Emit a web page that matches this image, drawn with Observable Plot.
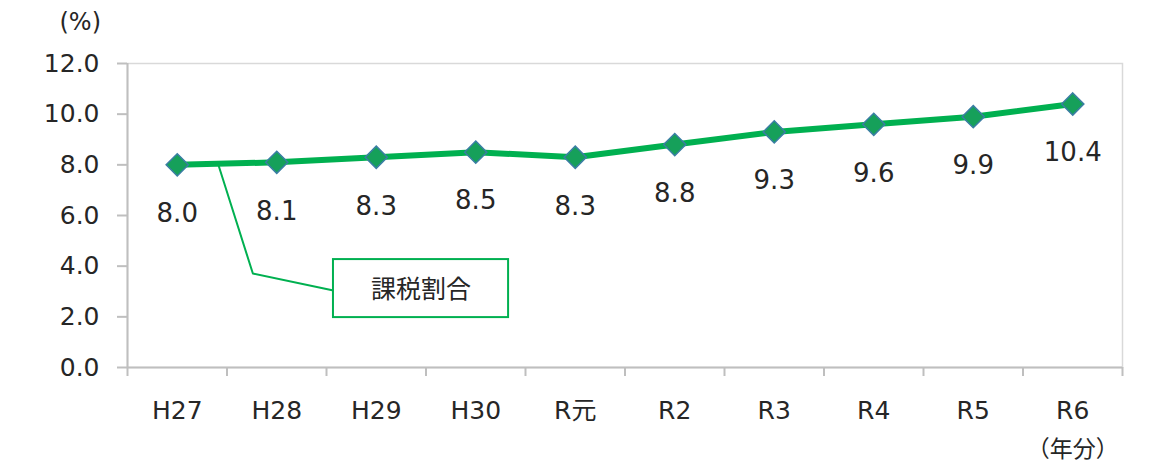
<!DOCTYPE html>
<html>
<head>
<meta charset="utf-8">
<script src="https://cdn.jsdelivr.net/npm/d3@7"></script>
<script src="https://cdn.jsdelivr.net/npm/@observablehq/plot@0.6"></script>
<style>
  html, body { margin: 0; padding: 0; background: #fff; }
  #chart { width: 1160px; height: 470px; }
  g[aria-label="category-labels"] text { letter-spacing: 2.5px; }
</style>
</head>
<body>
<div id="chart"></div>
<script>
const categories = ["H27", "H28", "H29", "H30", "R元", "R2", "R3", "R4", "R5", "R6"];
const values = [8.0, 8.1, 8.3, 8.5, 8.3, 8.8, 9.3, 9.6, 9.9, 10.4];
const yTicks = [0, 2, 4, 6, 8, 10, 12];
const seriesName = "課税割合";
const yUnitLabel = "(%)";
const xUnitLabel = "（年分）";
// callout annotation (data units: x = category index, y = %)
const leaderX = [0.41, 0.76, 1.57];
const leaderY = [8.04, 3.71, 3.04];
const boxX = [1.57, 3.33];
const boxY = [1.97, 4.26];
const boxLabelAt = [2.45, 3.05];

const data = categories.map((c, i) => ({ i, cat: c, v: values[i] }));
const boundaries = categories.map((d, i) => i - 0.5).concat([categories.length - 0.5]);
const leader = leaderX.map((x, k) => ({ x, y: leaderY[k] }));

const FONT = "'DejaVu Sans', 'Noto Sans CJK JP', sans-serif";
const TXT = "#262626";
const GREEN = "#00b050";

const chart = Plot.plot({
  width: 1160,
  height: 470,
  marginLeft: 127,
  marginRight: 38,
  marginTop: 63,
  marginBottom: 103,
  style: { fontFamily: FONT, background: "#fff", overflow: "visible" },
  x: { type: "linear", domain: [-0.5, categories.length - 0.5], axis: null },
  y: { domain: [0, 12], axis: null },
  marks: [
    Plot.frame({ stroke: "#d9d9d9", strokeWidth: 1.5 }),
    // y-axis ticks and labels
    Plot.axisY({ ticks: yTicks, tickSize: 10, tickFormat: () => "", stroke: "#bfbfbf", strokeWidth: 2 }),
    Plot.axisY({ ticks: yTicks, tickSize: 0, tickPadding: 28, tickFormat: d3.format(".1f"), fontSize: 25, fill: TXT }),
    // x-axis boundary ticks
    Plot.axisX({ ticks: boundaries, tickSize: 9, tickFormat: () => "", stroke: "#bfbfbf", strokeWidth: 2 }),
    Plot.ruleX([-0.5], { stroke: "#bfbfbf", strokeWidth: 2 }),
    Plot.ruleY([0], { stroke: "#bfbfbf", strokeWidth: 2 }),
    // category labels
    Plot.text(data, { x: "i", text: "cat", frameAnchor: "bottom", dy: 43, lineAnchor: "middle", fontSize: 25, fill: TXT, ariaLabel: "category-labels" }),
    Plot.text([xUnitLabel], { x: [categories.length - 1], text: d => d, frameAnchor: "bottom", dy: 82, lineAnchor: "middle", fontSize: 23, fill: TXT, fontFamily: "'Noto Sans CJK JP', sans-serif" }),
    Plot.text([yUnitLabel], { frameAnchor: "top-left", dx: -68, dy: -41, lineAnchor: "middle", textAnchor: "start", text: d => d, fontSize: 24, fill: TXT }),
    // callout
    Plot.line(leader, { x: "x", y: "y", stroke: GREEN, strokeWidth: 2 }),
    Plot.rect([{}], { x1: boxX[0], x2: boxX[1], y1: boxY[0], y2: boxY[1], fill: "#fff", stroke: GREEN, strokeWidth: 2 }),
    Plot.text([seriesName], { x: [boxLabelAt[0]], y: [boxLabelAt[1]], text: d => d, fontSize: 25, fill: TXT, fontFamily: "'Noto Sans CJK JP', sans-serif" }),
    // series
    Plot.line(data, { x: "i", y: "v", stroke: GREEN, strokeWidth: 6, strokeLinejoin: "round" }),
    Plot.dot(data, { x: "i", y: "v", symbol: "diamond2", r: 10, fill: "#16a05a", stroke: "#3a7ea3", strokeWidth: 1.5 }),
    Plot.text(data, { x: "i", y: "v", text: d => d.v.toFixed(1), dy: 49, fontSize: 26, fill: TXT })
  ]
});
document.getElementById("chart").appendChild(chart);
</script>
</body>
</html>
